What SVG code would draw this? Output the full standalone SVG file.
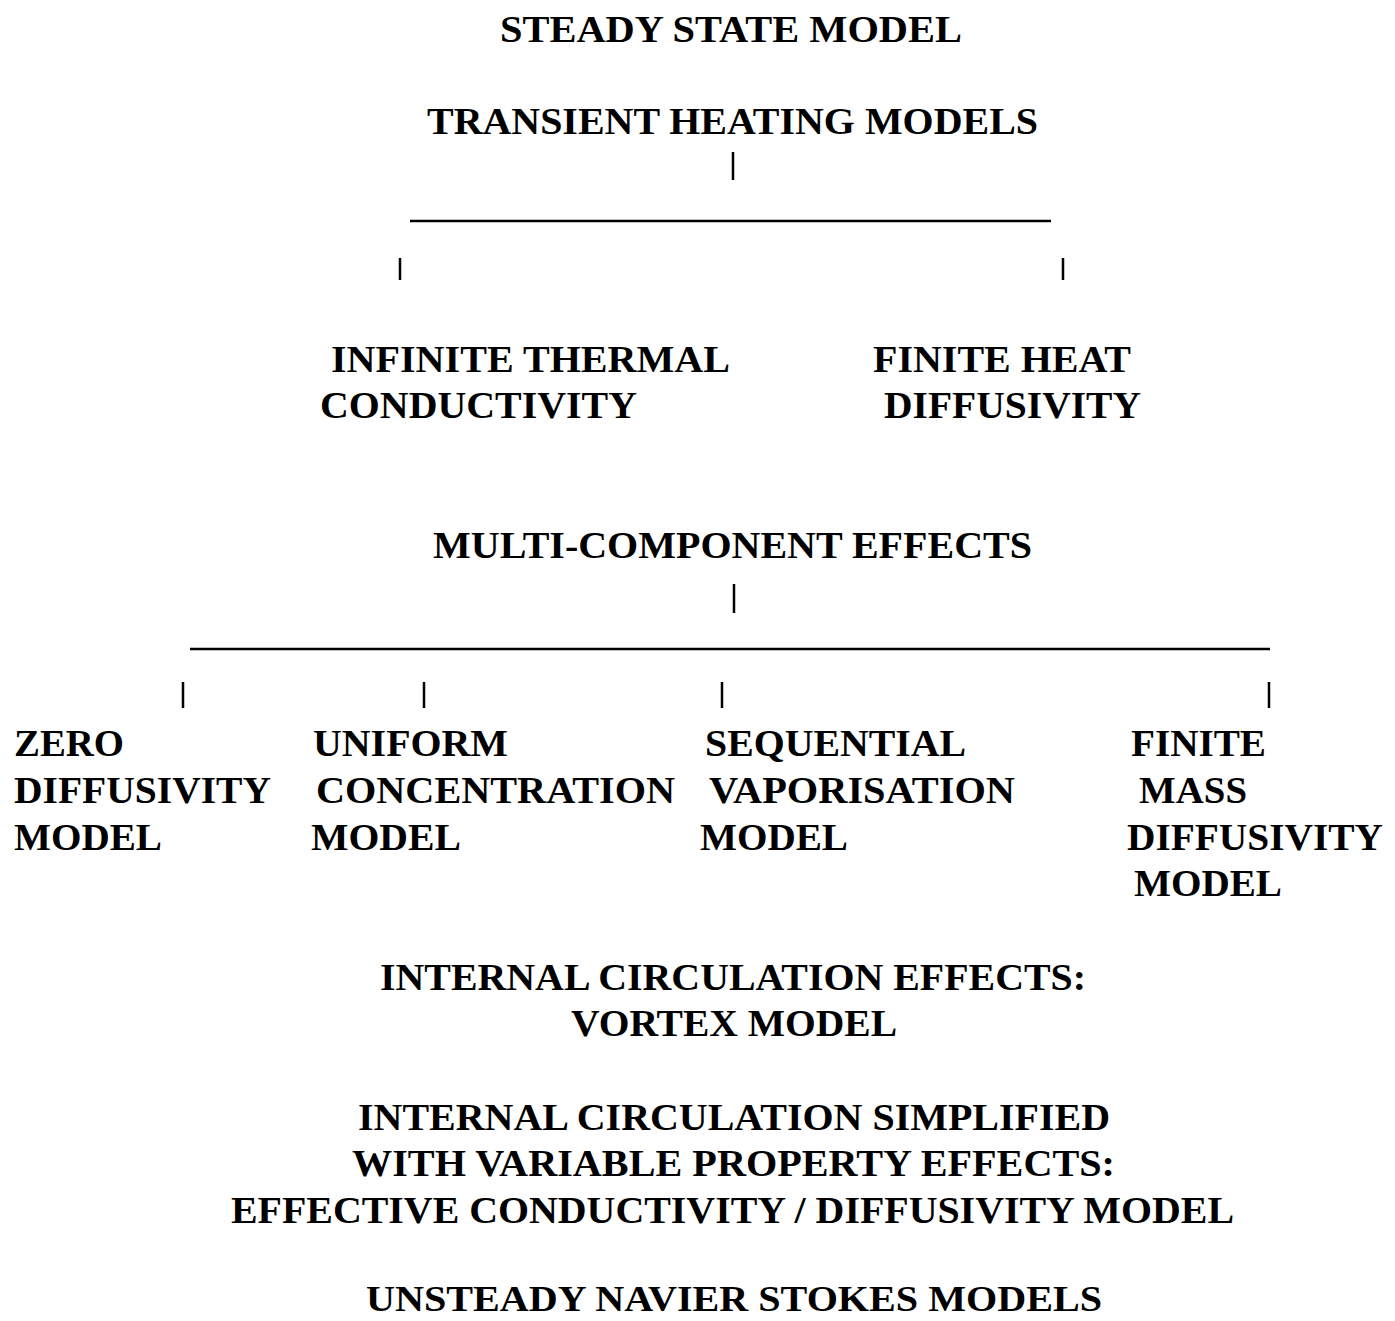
<svg xmlns="http://www.w3.org/2000/svg" width="1395" height="1321" viewBox="0 0 1395 1321">
<style>
text{font-family:"Liberation Serif","Times New Roman",serif;font-weight:bold;font-size:38px;fill:#000}
.c{stroke:#000;stroke-width:2.5;fill:none}
</style>
<rect width="1395" height="1321" fill="#fff"/>
<g id="connectors">
<line class="c" x1="733" y1="152" x2="733" y2="180"/>
<line class="c" x1="410" y1="221" x2="1051" y2="221"/>
<line class="c" x1="400" y1="258" x2="400" y2="280"/>
<line class="c" x1="1063" y1="258" x2="1063" y2="280"/>
<line class="c" x1="734" y1="584" x2="734" y2="613"/>
<line class="c" x1="190" y1="649" x2="1270" y2="649"/>
<line class="c" x1="183" y1="682" x2="183" y2="708"/>
<line class="c" x1="424" y1="682" x2="424" y2="708"/>
<line class="c" x1="722" y1="682" x2="722" y2="708"/>
<line class="c" x1="1269" y1="682" x2="1269" y2="708"/>
</g>
<g id="steady"><text x="500" y="42" textLength="462" lengthAdjust="spacingAndGlyphs">STEADY STATE MODEL</text></g>
<g id="transient"><text x="427" y="134" textLength="611" lengthAdjust="spacingAndGlyphs">TRANSIENT HEATING MODELS</text></g>
<g id="infinite">
<text x="331" y="372" textLength="399" lengthAdjust="spacingAndGlyphs">INFINITE THERMAL</text>
<text x="320" y="418" textLength="317" lengthAdjust="spacingAndGlyphs">CONDUCTIVITY</text>
</g>
<g id="finite-heat">
<text x="873" y="372" textLength="258" lengthAdjust="spacingAndGlyphs">FINITE HEAT</text>
<text x="884" y="418" textLength="257" lengthAdjust="spacingAndGlyphs">DIFFUSIVITY</text>
</g>
<g id="multi"><text x="433" y="558" textLength="599" lengthAdjust="spacingAndGlyphs">MULTI-COMPONENT EFFECTS</text></g>
<g id="zero">
<text x="14" y="756" textLength="110" lengthAdjust="spacingAndGlyphs">ZERO</text>
<text x="14" y="803" textLength="257" lengthAdjust="spacingAndGlyphs">DIFFUSIVITY</text>
<text x="14" y="850" textLength="148" lengthAdjust="spacingAndGlyphs">MODEL</text>
</g>
<g id="uniform">
<text x="313" y="756" textLength="195" lengthAdjust="spacingAndGlyphs">UNIFORM</text>
<text x="316" y="803" textLength="359" lengthAdjust="spacingAndGlyphs">CONCENTRATION</text>
<text x="311" y="850" textLength="150" lengthAdjust="spacingAndGlyphs">MODEL</text>
</g>
<g id="sequential">
<text x="705" y="756" textLength="261" lengthAdjust="spacingAndGlyphs">SEQUENTIAL</text>
<text x="709" y="803" textLength="306" lengthAdjust="spacingAndGlyphs">VAPORISATION</text>
<text x="700" y="850" textLength="148" lengthAdjust="spacingAndGlyphs">MODEL</text>
</g>
<g id="finite-mass">
<text x="1131" y="756" textLength="135" lengthAdjust="spacingAndGlyphs">FINITE</text>
<text x="1139" y="803" textLength="108" lengthAdjust="spacingAndGlyphs">MASS</text>
<text x="1127" y="850" textLength="256" lengthAdjust="spacingAndGlyphs">DIFFUSIVITY</text>
<text x="1134" y="896" textLength="148" lengthAdjust="spacingAndGlyphs">MODEL</text>
</g>
<g id="internal">
<text x="380" y="990" textLength="706" lengthAdjust="spacingAndGlyphs">INTERNAL CIRCULATION EFFECTS:</text>
<text x="571" y="1036" textLength="326" lengthAdjust="spacingAndGlyphs">VORTEX MODEL</text>
</g>
<g id="simplified">
<text x="358" y="1130" textLength="752" lengthAdjust="spacingAndGlyphs">INTERNAL CIRCULATION SIMPLIFIED</text>
<text x="352" y="1176" textLength="763" lengthAdjust="spacingAndGlyphs">WITH VARIABLE PROPERTY EFFECTS:</text>
<text x="231" y="1223" textLength="1003" lengthAdjust="spacingAndGlyphs">EFFECTIVE CONDUCTIVITY / DIFFUSIVITY MODEL</text>
</g>
<g id="navier"><text x="366" y="1311" style="font-size:35px" textLength="736" lengthAdjust="spacingAndGlyphs">UNSTEADY NAVIER STOKES MODELS</text></g>
</svg>
